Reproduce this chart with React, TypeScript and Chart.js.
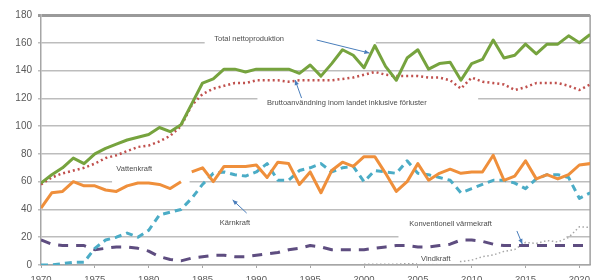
import React, { useEffect, useRef } from 'react';
import { Chart, registerables } from 'chart.js';

Chart.register(...registerables);

// ---- Data (TWh) ----
const years = [
  1970, 1971, 1972, 1973, 1974, 1975, 1976, 1977, 1978, 1979,
  1980, 1981, 1982, 1983, 1984, 1985, 1986, 1987, 1988, 1989,
  1990, 1991, 1992, 1993, 1994, 1995, 1996, 1997, 1998, 1999,
  2000, 2001, 2002, 2003, 2004, 2005, 2006, 2007, 2008, 2009,
  2010, 2011, 2012, 2013, 2014, 2015, 2016, 2017, 2018, 2019,
  2020, 2021,
];

const totalNetto = [
  59, 65, 70, 77, 73, 80, 84, 87, 90, 92,
  94, 99, 96, 101, 116, 131, 134, 141, 141, 139,
  141, 141, 141, 141, 138, 144, 136, 145, 155, 151,
  142, 158, 143, 133, 149, 155, 141, 145, 146, 133,
  145, 148, 162, 149, 151, 159, 152, 159, 159, 165,
  160, 166,
];

const bruttoAnvandning = [
  58, 63, 66, 68, 70, 73, 77, 79, 82, 85,
  86, 89, 93, 100, 115, 123, 127, 129, 131, 131,
  133, 133, 133, 132, 133, 133, 133, 133, 134, 135,
  137, 139, 137, 136, 136, 136, 135, 135, 133, 127,
  135, 132, 131, 130, 126, 128, 131, 131, 131, 129,
  126, 130,
];

const vattenkraft = [
  41, 52, 53, 60, 57, 57, 54, 53, 57, 59,
  59, 58, 55, 60, 67, 70, 60, 71, 71, 71,
  72, 63, 74, 73, 58, 67, 52, 68, 74, 71,
  78, 78, 66, 53, 60, 73, 61, 66, 69, 66,
  67, 67, 79, 61, 64, 75, 62, 65, 62, 65,
  72, 73,
];

const karnkraft = [
  0, 0, 1, 2, 2, 12, 18, 20, 23, 20,
  25, 36, 38, 40, 48, 58, 66, 67, 65, 64,
  67, 73, 61, 61, 68, 70, 73, 67, 70, 71,
  60, 68, 67, 66, 75, 66, 65, 63, 61, 52,
  55, 58, 61, 61, 59, 55, 62, 65, 65, 63,
  48, 52,
];

const konvVarmekraft = [
  18, 15, 14, 14, 14, 11, 12, 13, 13, 12,
  10, 6, 4, 3, 5, 6, 7, 7, 6, 6,
  7, 8, 9, 11, 12, 14, 13, 11, 11, 11,
  11, 12, 13, 14, 14, 13, 13, 14, 15, 18,
  18, 17, 15, 14, 14, 14, 14, 14, 14, 14,
  14, 14,
];

const vindkraft = [
  null, null, null, null, null, null, null, null, null, null,
  null, null, null, null, null, null, null, null, null, null,
  null, null, null, null, null, null, null, null, null, null,
  0.5, 0.5, 0.6, 0.6, 0.9, 0.9, 1.0, 1.4, 2.0, 2.5,
  3.5, 6.0, 7.2, 9.8, 11.2, 16.3, 15.5, 17.6, 16.6, 19.8,
  27.5, 27.0,
];

const seriesNames = [
  'Total nettoproduktion',
  'Bruttoanvändning inom landet inklusive förluster',
  'Vattenkraft',
  'Kärnkraft',
  'Konventionell värmekraft',
  'Vindkraft',
];

// ---- In-plot text labels, anchored in data coordinates ----
type Annot = {
  text: string;
  x: number; y: number; // left edge / vertical centre (year, TWh)
  box?: [number, number, number, number]; // x0, y0, x1, y1 in data units
  boxOnTop?: boolean;
  arrow?: [number, number, number, number]; // from (x,y) to (x,y)
};

const annotations: Annot[] = [
  { text: seriesNames[0], x: 1986.1, y: 162.7, box: [1985.2, 167.5, 2001.1, 157.8], arrow: [1995.6, 162.0, 2000.5, 152.6] },
  { text: seriesNames[1], x: 1991.0, y: 116.6, box: [1990.1, 122.8, 2010.6, 111.6], arrow: [1994.2, 120.2, 1993.6, 133.2] },
  { text: seriesNames[2], x: 1977.0, y: 69.1, box: [1976.6, 75.0, 1983.8, 58.3] },
  { text: seriesNames[3], x: 1986.6, y: 30.2, arrow: [1989.1, 37.4, 1987.8, 46.8] },
  { text: seriesNames[4], x: 2004.2, y: 29.5, box: [2003.2, 34.6, 2018.8, 18.6], arrow: [2014.2, 24.5, 2014.7, 15.1] },
  { text: seriesNames[5], x: 2005.3, y: 4.3, box: [2004.9, 8.0, 2008.8, 0.8], boxOnTop: true },
];

const toXY = (vals: (number | null)[]) => years.map((yr, i) => ({ x: yr, y: vals[i] }));

const drawBox = (chart: any, a: Annot) => {
  const { ctx, scales } = chart;
  const [x0, y0, x1, y1] = a.box!;
  const px0 = scales.x.getPixelForValue(x0);
  const px1 = scales.x.getPixelForValue(x1);
  const py0 = scales.y.getPixelForValue(y0);
  const py1 = scales.y.getPixelForValue(y1);
  ctx.fillStyle = '#ffffff';
  ctx.fillRect(px0, py0, px1 - px0, py1 - py0);
};

const annotPlugin = {
  id: 'annotPlugin',
  beforeDatasetsDraw(chart: any) {
    const { ctx, chartArea } = chart;
    ctx.save();
    annotations.forEach((a) => { if (a.box && !a.boxOnTop) drawBox(chart, a); });
    // right border of plot
    ctx.strokeStyle = '#a0a0a0';
    ctx.lineWidth = 1.5;
    ctx.beginPath();
    ctx.moveTo(chartArea.right, chartArea.top);
    ctx.lineTo(chartArea.right, chartArea.bottom);
    ctx.stroke();
    ctx.restore();
  },
  afterDatasetsDraw(chart: any) {
    const { ctx, scales } = chart;
    ctx.save();
    annotations.forEach((a) => { if (a.box && a.boxOnTop) drawBox(chart, a); });
    ctx.font = '7.5px "Liberation Sans", Arial, sans-serif';
    ctx.fillStyle = '#4d4d4d';
    ctx.textBaseline = 'middle';
    ctx.textAlign = 'left';
    annotations.forEach((a) => {
      ctx.fillText(a.text, scales.x.getPixelForValue(a.x), scales.y.getPixelForValue(a.y));
      if (a.arrow) {
        const [ax0, ay0, ax1, ay1] = a.arrow;
        const p0x = scales.x.getPixelForValue(ax0);
        const p0y = scales.y.getPixelForValue(ay0);
        const p1x = scales.x.getPixelForValue(ax1);
        const p1y = scales.y.getPixelForValue(ay1);
        ctx.strokeStyle = '#4a7ebb';
        ctx.fillStyle = '#4a7ebb';
        ctx.lineWidth = 1;
        ctx.beginPath();
        ctx.moveTo(p0x, p0y);
        ctx.lineTo(p1x, p1y);
        ctx.stroke();
        const ang = Math.atan2(p1y - p0y, p1x - p0x);
        const L = 5, W = 2.2;
        ctx.beginPath();
        ctx.moveTo(p1x, p1y);
        ctx.lineTo(p1x - L * Math.cos(ang) + W * Math.sin(ang), p1y - L * Math.sin(ang) - W * Math.cos(ang));
        ctx.lineTo(p1x - L * Math.cos(ang) - W * Math.sin(ang), p1y - L * Math.sin(ang) + W * Math.cos(ang));
        ctx.closePath();
        ctx.fill();
        ctx.fillStyle = '#4d4d4d';
      }
    });
    ctx.restore();
  },
};

export default function App() {
  const canvasRef = useRef<HTMLCanvasElement | null>(null);

  useEffect(() => {
    if (!canvasRef.current) return;
    Chart.defaults.font.family = '"Liberation Sans", Arial, sans-serif';
    const common = { pointRadius: 0, pointHoverRadius: 0, tension: 0, fill: false, borderJoinStyle: 'round' as const };
    const chart = new Chart(canvasRef.current, {
      type: 'line',
      data: {
        datasets: [
          { ...common, label: seriesNames[0], data: toXY(totalNetto), borderColor: '#76a33e', borderWidth: 3 },
          {
            ...common, label: seriesNames[2], data: toXY(vattenkraft), borderColor: '#ef8f3b', borderWidth: 3,
            segment: { borderColor: (c: any) => (c.p0.parsed.x === 1983 ? 'rgba(0,0,0,0)' : undefined) },
          },
          { ...common, label: seriesNames[3], data: toXY(karnkraft), borderColor: '#4bacc6', borderWidth: 3, borderDash: [7, 5] },
          { ...common, label: seriesNames[4], data: toXY(konvVarmekraft), borderColor: '#5e4d80', borderWidth: 3, borderDash: [10, 8] },
          { ...common, label: seriesNames[1], data: toXY(bruttoAnvandning), borderColor: '#c0504d', borderWidth: 2.5, borderDash: [2, 3] },
          { ...common, label: seriesNames[5], data: toXY(vindkraft), borderColor: '#a6a6a6', borderWidth: 1.5, borderDash: [1.5, 2.5], spanGaps: false },
        ],
      },
      options: {
        animation: false,
        responsive: false,
        maintainAspectRatio: false,
        events: [],
        layout: { padding: { top: 15, right: 4, left: 0, bottom: 0 } },
        plugins: { legend: { display: false }, tooltip: { enabled: false }, title: { display: false } },
        scales: {
          x: {
            type: 'linear',
            min: 1970,
            max: 2021,
            afterFit: (s: any) => { s.height = 15; },
            ticks: {
              stepSize: 5,
              includeBounds: false,
              autoSkip: false,
              maxRotation: 0,
              padding: 6,
              color: '#595959',
              font: { size: 9.5 },
              callback: (v: any) => String(v),
            },
            grid: { drawOnChartArea: false, drawTicks: true, tickLength: 3, color: '#a6a6a6', lineWidth: 1 },
            border: { display: true, color: '#a6a6a6', width: 1.5 },
          },
          y: {
            min: 0,
            max: 180,
            afterFit: (s: any) => { s.width = 41; },
            ticks: { stepSize: 20, padding: 6, color: '#595959', font: { size: 10 } },
            grid: {
              drawTicks: true,
              tickLength: 3,
              color: (c: any) => (c.tick && c.tick.value === 180 ? '#9a9a9a' : '#bdbdbd'),
              lineWidth: (c: any) => (c.tick && c.tick.value === 180 ? 3 : 1.5),
            },
            border: { display: true, color: '#a6a6a6', width: 1.5 },
          },
        },
      },
      plugins: [annotPlugin],
    });
    return () => chart.destroy();
  }, []);

  return (
    <div style={{ position: 'absolute', left: 0, top: 0, width: 596, height: 280, background: '#fff' }}>
      <canvas ref={canvasRef} width={596} height={280} style={{ display: 'block' }} />
    </div>
  );
}
